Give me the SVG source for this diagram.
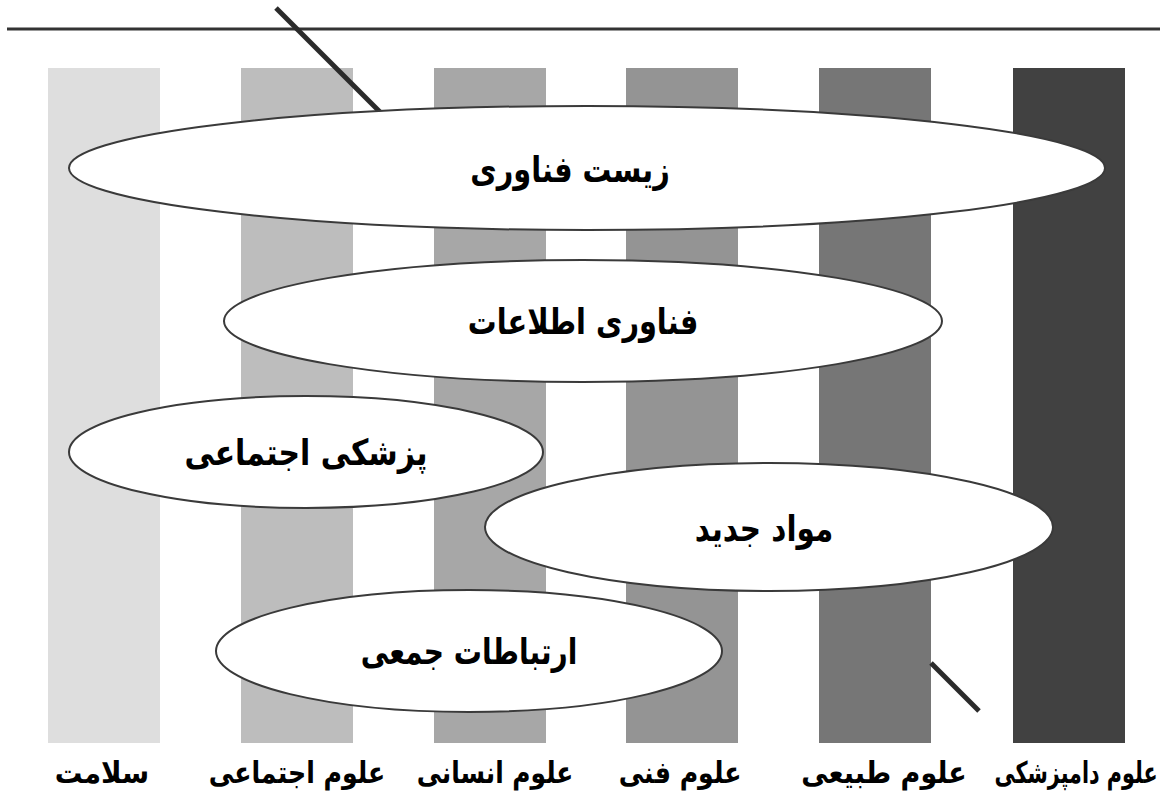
<svg xmlns="http://www.w3.org/2000/svg" width="1160" height="797" viewBox="0 0 1160 797">
<style>
.bar{stroke:none}
.ell{fill:#ffffff;stroke:#3a3a3a;stroke-width:2}
.lbl{font-family:"DejaVu Sans",sans-serif;font-weight:bold;fill:#000;text-anchor:middle;direction:rtl}
.in{font-size:36px}
.bt{font-size:30px}
.ln{stroke:#2b2b2b;stroke-width:5;stroke-linecap:butt}
</style>
<rect x="0" y="0" width="1160" height="797" fill="#ffffff"/>
<line x1="7" y1="29" x2="1160" y2="29" stroke="#333" stroke-width="3"/>
<g id="bars">
<rect class="bar" x="48" y="68" width="112" height="675" fill="#dedede"/>
<rect class="bar" x="241" y="68" width="112" height="675" fill="#bdbdbd"/>
<rect class="bar" x="434" y="68" width="112" height="675" fill="#a7a7a7"/>
<rect class="bar" x="626" y="68" width="112" height="675" fill="#949494"/>
<rect class="bar" x="819" y="68" width="112" height="675" fill="#767676"/>
<rect class="bar" x="1013" y="68" width="112" height="675" fill="#414141"/>
</g>
<g id="connectors">
<line class="ln" x1="276" y1="8" x2="395" y2="127"/>
<line class="ln" x1="931" y1="663" x2="979" y2="711"/>
</g>
<g id="n1"><ellipse class="ell" cx="587" cy="168" rx="518" ry="62"/><text class="lbl in" transform="translate(570,182) scale(0.8,1)">زیست فناوری</text></g>
<g id="n2"><ellipse class="ell" cx="583" cy="321" rx="359" ry="61"/><text class="lbl in" transform="translate(583,334) scale(0.8,1)">فناوری اطلاعات</text></g>
<g id="n3"><ellipse class="ell" cx="306" cy="452" rx="237" ry="56"/><text class="lbl in" transform="translate(306,465) scale(0.83,1)">پزشکی اجتماعی</text></g>
<g id="n4"><ellipse class="ell" cx="769" cy="527" rx="284" ry="64"/><text class="lbl in" transform="translate(764,541) scale(0.82,1)">مواد جدید</text></g>
<g id="n5"><ellipse class="ell" cx="469" cy="651" rx="253" ry="61"/><text class="lbl in" transform="translate(469,664) scale(0.78,1)">ارتباطات جمعی</text></g>
<g id="labels">
<text class="lbl bt" transform="translate(102,783) scale(0.92,1)">سلامت</text>
<text class="lbl bt" transform="translate(297,783) scale(0.84,1)">علوم اجتماعی</text>
<text class="lbl bt" transform="translate(495,783) scale(0.83,1)">علوم انسانی</text>
<text class="lbl bt" transform="translate(680,783) scale(0.84,1)">علوم فنی</text>
<text class="lbl bt" transform="translate(884,783) scale(0.9,1)">علوم طبیعی</text>
<text class="lbl bt" transform="translate(1076,783) scale(0.69,1)">علوم دامپزشکی</text>
</g>
</svg>
